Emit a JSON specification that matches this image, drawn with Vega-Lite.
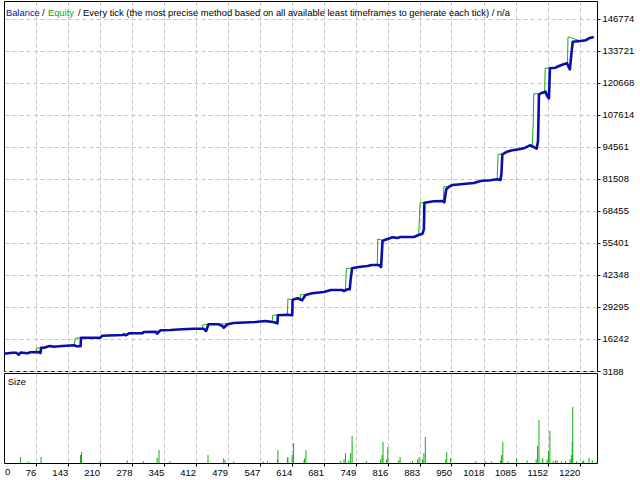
{
  "$schema": "https://vega.github.io/schema/vega-lite/v6.json",
  "padding": {"left": 3, "top": 0, "right": 0, "bottom": 0},
  "background": "white",
  "spacing": 2,
  "bounds": "flush",
  "datasets": {
    "lines": [
      {"s": "Balance", "x": 9, "y": 10245}, {"s": "Balance", "x": 26, "y": 10653}, {"s": "Balance", "x": 35, "y": 10653},
      {"s": "Balance", "x": 40, "y": 9837}, {"s": "Balance", "x": 44, "y": 10734}, {"s": "Balance", "x": 58, "y": 10449},
      {"s": "Balance", "x": 65, "y": 10816}, {"s": "Balance", "x": 82, "y": 10938}, {"s": "Balance", "x": 86, "y": 10530},
      {"s": "Balance", "x": 87, "y": 12692}, {"s": "Balance", "x": 93, "y": 12692}, {"s": "Balance", "x": 105, "y": 13385},
      {"s": "Balance", "x": 114, "y": 13100}, {"s": "Balance", "x": 124, "y": 13263}, {"s": "Balance", "x": 156, "y": 13671},
      {"s": "Balance", "x": 162, "y": 13263}, {"s": "Balance", "x": 170, "y": 13263}, {"s": "Balance", "x": 171, "y": 16771},
      {"s": "Balance", "x": 212, "y": 16771}, {"s": "Balance", "x": 216, "y": 17587}, {"s": "Balance", "x": 258, "y": 17872},
      {"s": "Balance", "x": 261, "y": 18158}, {"s": "Balance", "x": 265, "y": 17750}, {"s": "Balance", "x": 272, "y": 18566},
      {"s": "Balance", "x": 300, "y": 18566}, {"s": "Balance", "x": 303, "y": 19096}, {"s": "Balance", "x": 328, "y": 19218},
      {"s": "Balance", "x": 331, "y": 18402}, {"s": "Balance", "x": 338, "y": 19789}, {"s": "Balance", "x": 359, "y": 19912},
      {"s": "Balance", "x": 384, "y": 20197}, {"s": "Balance", "x": 408, "y": 20442}, {"s": "Balance", "x": 429, "y": 20442},
      {"s": "Balance", "x": 434, "y": 19504}, {"s": "Balance", "x": 439, "y": 22236}, {"s": "Balance", "x": 461, "y": 22236},
      {"s": "Balance", "x": 468, "y": 21543}, {"s": "Balance", "x": 471, "y": 20850}, {"s": "Balance", "x": 479, "y": 22236},
      {"s": "Balance", "x": 492, "y": 22767}, {"s": "Balance", "x": 538, "y": 23175}, {"s": "Balance", "x": 559, "y": 23583},
      {"s": "Balance", "x": 577, "y": 23053}, {"s": "Balance", "x": 584, "y": 22645}, {"s": "Balance", "x": 585, "y": 25908},
      {"s": "Balance", "x": 605, "y": 26153}, {"s": "Balance", "x": 615, "y": 25908}, {"s": "Balance", "x": 616, "y": 32271},
      {"s": "Balance", "x": 626, "y": 32842}, {"s": "Balance", "x": 636, "y": 32026}, {"s": "Balance", "x": 643, "y": 34188},
      {"s": "Balance", "x": 657, "y": 34881}, {"s": "Balance", "x": 682, "y": 35412}, {"s": "Balance", "x": 696, "y": 36228},
      {"s": "Balance", "x": 720, "y": 36228}, {"s": "Balance", "x": 724, "y": 35820}, {"s": "Balance", "x": 731, "y": 36513},
      {"s": "Balance", "x": 736, "y": 36513}, {"s": "Balance", "x": 738, "y": 40592}, {"s": "Balance", "x": 741, "y": 45079},
      {"s": "Balance", "x": 755, "y": 45610}, {"s": "Balance", "x": 773, "y": 46017}, {"s": "Balance", "x": 783, "y": 46425},
      {"s": "Balance", "x": 797, "y": 46425}, {"s": "Balance", "x": 802, "y": 45610}, {"s": "Balance", "x": 805, "y": 56215},
      {"s": "Balance", "x": 811, "y": 56745}, {"s": "Balance", "x": 826, "y": 57724}, {"s": "Balance", "x": 836, "y": 57439},
      {"s": "Balance", "x": 843, "y": 57847}, {"s": "Balance", "x": 871, "y": 57847}, {"s": "Balance", "x": 881, "y": 58662},
      {"s": "Balance", "x": 889, "y": 59193}, {"s": "Balance", "x": 892, "y": 60987}, {"s": "Balance", "x": 893, "y": 71838},
      {"s": "Balance", "x": 913, "y": 72409}, {"s": "Balance", "x": 931, "y": 72531}, {"s": "Balance", "x": 935, "y": 72001},
      {"s": "Balance", "x": 939, "y": 77303}, {"s": "Balance", "x": 945, "y": 78363}, {"s": "Balance", "x": 952, "y": 79057},
      {"s": "Balance", "x": 969, "y": 79343}, {"s": "Balance", "x": 997, "y": 79873}, {"s": "Balance", "x": 1011, "y": 80689},
      {"s": "Balance", "x": 1032, "y": 80975}, {"s": "Balance", "x": 1046, "y": 81383}, {"s": "Balance", "x": 1053, "y": 81097},
      {"s": "Balance", "x": 1055, "y": 83544}, {"s": "Balance", "x": 1057, "y": 91580}, {"s": "Balance", "x": 1067, "y": 92640},
      {"s": "Balance", "x": 1078, "y": 93212}, {"s": "Balance", "x": 1092, "y": 93619}, {"s": "Balance", "x": 1102, "y": 94027},
      {"s": "Balance", "x": 1115, "y": 95251}, {"s": "Balance", "x": 1123, "y": 94558}, {"s": "Balance", "x": 1129, "y": 93864},
      {"s": "Balance", "x": 1132, "y": 97005}, {"s": "Balance", "x": 1134, "y": 116054}, {"s": "Balance", "x": 1141, "y": 116707},
      {"s": "Balance", "x": 1148, "y": 117115}, {"s": "Balance", "x": 1151, "y": 115360}, {"s": "Balance", "x": 1155, "y": 114422},
      {"s": "Balance", "x": 1157, "y": 126659}, {"s": "Balance", "x": 1169, "y": 126904}, {"s": "Balance", "x": 1176, "y": 127597},
      {"s": "Balance", "x": 1186, "y": 128291}, {"s": "Balance", "x": 1193, "y": 128699}, {"s": "Balance", "x": 1197, "y": 126904},
      {"s": "Balance", "x": 1199, "y": 126251}, {"s": "Balance", "x": 1202, "y": 132370}, {"s": "Balance", "x": 1205, "y": 137509},
      {"s": "Balance", "x": 1221, "y": 137795}, {"s": "Balance", "x": 1232, "y": 138081}, {"s": "Balance", "x": 1239, "y": 138896},
      {"s": "Balance", "x": 1249, "y": 139427},
      {"s": "Equity", "x": 9, "y": 10245}, {"s": "Equity", "x": 26, "y": 10653}, {"s": "Equity", "x": 35, "y": 10653},
      {"s": "Equity", "x": 40, "y": 9837}, {"s": "Equity", "x": 44, "y": 10734}, {"s": "Equity", "x": 58, "y": 10449},
      {"s": "Equity", "x": 65, "y": 10816}, {"s": "Equity", "x": 76, "y": 10938}, {"s": "Equity", "x": 77, "y": 12447},
      {"s": "Equity", "x": 87, "y": 12692}, {"s": "Equity", "x": 93, "y": 12692}, {"s": "Equity", "x": 105, "y": 13385},
      {"s": "Equity", "x": 114, "y": 13100}, {"s": "Equity", "x": 124, "y": 13263}, {"s": "Equity", "x": 156, "y": 13671},
      {"s": "Equity", "x": 159, "y": 16524}, {"s": "Equity", "x": 171, "y": 16771}, {"s": "Equity", "x": 212, "y": 16771},
      {"s": "Equity", "x": 216, "y": 17587}, {"s": "Equity", "x": 258, "y": 17872}, {"s": "Equity", "x": 272, "y": 18566},
      {"s": "Equity", "x": 300, "y": 18566}, {"s": "Equity", "x": 303, "y": 19096}, {"s": "Equity", "x": 328, "y": 19218},
      {"s": "Equity", "x": 338, "y": 19789}, {"s": "Equity", "x": 384, "y": 20197}, {"s": "Equity", "x": 408, "y": 20442},
      {"s": "Equity", "x": 426, "y": 20442}, {"s": "Equity", "x": 427, "y": 21951}, {"s": "Equity", "x": 439, "y": 22236},
      {"s": "Equity", "x": 461, "y": 22236}, {"s": "Equity", "x": 492, "y": 22767}, {"s": "Equity", "x": 538, "y": 23175},
      {"s": "Equity", "x": 559, "y": 23583}, {"s": "Equity", "x": 573, "y": 23374}, {"s": "Equity", "x": 574, "y": 25908},
      {"s": "Equity", "x": 605, "y": 26153}, {"s": "Equity", "x": 606, "y": 32557}, {"s": "Equity", "x": 616, "y": 32271},
      {"s": "Equity", "x": 626, "y": 32842}, {"s": "Equity", "x": 632, "y": 32965}, {"s": "Equity", "x": 633, "y": 34474},
      {"s": "Equity", "x": 643, "y": 34188}, {"s": "Equity", "x": 657, "y": 34881}, {"s": "Equity", "x": 682, "y": 35412},
      {"s": "Equity", "x": 696, "y": 36228}, {"s": "Equity", "x": 720, "y": 36228}, {"s": "Equity", "x": 727, "y": 36350},
      {"s": "Equity", "x": 729, "y": 45079}, {"s": "Equity", "x": 741, "y": 45079}, {"s": "Equity", "x": 755, "y": 45610},
      {"s": "Equity", "x": 773, "y": 46017}, {"s": "Equity", "x": 783, "y": 46425}, {"s": "Equity", "x": 794, "y": 46425},
      {"s": "Equity", "x": 795, "y": 57031}, {"s": "Equity", "x": 805, "y": 56500}, {"s": "Equity", "x": 811, "y": 56745},
      {"s": "Equity", "x": 826, "y": 57724}, {"s": "Equity", "x": 836, "y": 57439}, {"s": "Equity", "x": 843, "y": 57847},
      {"s": "Equity", "x": 871, "y": 57847}, {"s": "Equity", "x": 881, "y": 58662}, {"s": "Equity", "x": 884, "y": 71838},
      {"s": "Equity", "x": 893, "y": 71838}, {"s": "Equity", "x": 913, "y": 72409}, {"s": "Equity", "x": 931, "y": 72531},
      {"s": "Equity", "x": 933, "y": 72653}, {"s": "Equity", "x": 934, "y": 78363}, {"s": "Equity", "x": 945, "y": 78363},
      {"s": "Equity", "x": 952, "y": 79057}, {"s": "Equity", "x": 969, "y": 79343}, {"s": "Equity", "x": 997, "y": 79873},
      {"s": "Equity", "x": 1011, "y": 80689}, {"s": "Equity", "x": 1032, "y": 80975}, {"s": "Equity", "x": 1046, "y": 81383},
      {"s": "Equity", "x": 1048, "y": 91580}, {"s": "Equity", "x": 1057, "y": 91580}, {"s": "Equity", "x": 1067, "y": 92640},
      {"s": "Equity", "x": 1078, "y": 93212}, {"s": "Equity", "x": 1092, "y": 93619}, {"s": "Equity", "x": 1102, "y": 94027},
      {"s": "Equity", "x": 1115, "y": 95251}, {"s": "Equity", "x": 1120, "y": 95169}, {"s": "Equity", "x": 1122, "y": 105163},
      {"s": "Equity", "x": 1123, "y": 116299}, {"s": "Equity", "x": 1134, "y": 116299}, {"s": "Equity", "x": 1141, "y": 116707},
      {"s": "Equity", "x": 1146, "y": 116992}, {"s": "Equity", "x": 1147, "y": 126659}, {"s": "Equity", "x": 1157, "y": 126659},
      {"s": "Equity", "x": 1169, "y": 126904}, {"s": "Equity", "x": 1176, "y": 127597}, {"s": "Equity", "x": 1186, "y": 128291},
      {"s": "Equity", "x": 1194, "y": 128699}, {"s": "Equity", "x": 1195, "y": 139427}, {"s": "Equity", "x": 1200, "y": 139223},
      {"s": "Equity", "x": 1221, "y": 137795}, {"s": "Equity", "x": 1232, "y": 138081}, {"s": "Equity", "x": 1239, "y": 138896},
      {"s": "Equity", "x": 1249, "y": 139427}
    ],
    "size": [
      {"x": 44, "v": 6}, {"x": 61, "v": 1.3}, {"x": 87, "v": 6}, {"x": 170, "v": 8}, {"x": 172, "v": 11},
      {"x": 212, "v": 1.7}, {"x": 268, "v": 2.7}, {"x": 302, "v": 1.7}, {"x": 331, "v": 5.3}, {"x": 335, "v": 13},
      {"x": 358, "v": 2}, {"x": 438, "v": 8}, {"x": 471, "v": 4.7}, {"x": 474, "v": 2.7}, {"x": 492, "v": 1.3},
      {"x": 554, "v": 1.7}, {"x": 563, "v": 1.7}, {"x": 584, "v": 3.7}, {"x": 585, "v": 12.7}, {"x": 605, "v": 4.7},
      {"x": 606, "v": 6}, {"x": 615, "v": 8}, {"x": 618, "v": 20}, {"x": 640, "v": 2.7}, {"x": 641, "v": 4.7},
      {"x": 644, "v": 13}, {"x": 717, "v": 2}, {"x": 724, "v": 3.7}, {"x": 727, "v": 10}, {"x": 734, "v": 2.7},
      {"x": 738, "v": 10}, {"x": 741, "v": 27}, {"x": 771, "v": 2}, {"x": 801, "v": 3.7}, {"x": 804, "v": 8},
      {"x": 806, "v": 21}, {"x": 813, "v": 3.7}, {"x": 816, "v": 16}, {"x": 839, "v": 2.7}, {"x": 842, "v": 6},
      {"x": 868, "v": 2}, {"x": 879, "v": 3.7}, {"x": 882, "v": 6}, {"x": 889, "v": 3.7}, {"x": 892, "v": 10},
      {"x": 895, "v": 26}, {"x": 938, "v": 3.7}, {"x": 940, "v": 11}, {"x": 948, "v": 4.7}, {"x": 1001, "v": 2},
      {"x": 1022, "v": 1.7}, {"x": 1034, "v": 1.7}, {"x": 1053, "v": 2.7}, {"x": 1055, "v": 8}, {"x": 1058, "v": 21},
      {"x": 1069, "v": 1.7}, {"x": 1087, "v": 4.7}, {"x": 1109, "v": 2.7}, {"x": 1128, "v": 3.7}, {"x": 1131, "v": 17},
      {"x": 1134, "v": 43}, {"x": 1141, "v": 2.7}, {"x": 1142, "v": 5}, {"x": 1151, "v": 3.7}, {"x": 1154, "v": 12},
      {"x": 1157, "v": 32}, {"x": 1164, "v": 2}, {"x": 1169, "v": 2.7}, {"x": 1172, "v": 2.7}, {"x": 1181, "v": 1.7},
      {"x": 1190, "v": 2}, {"x": 1199, "v": 3.7}, {"x": 1202, "v": 8}, {"x": 1204, "v": 22}, {"x": 1205, "v": 56},
      {"x": 1213, "v": 1.7}, {"x": 1225, "v": 1.7}, {"x": 1228, "v": 2.7}, {"x": 1239, "v": 5}, {"x": 1246, "v": 3}
    ]
  },
  "vconcat": [
    {
      "width": 593,
      "height": 370,
      "layer": [
        {
          "data": {"name": "lines"},
          "transform": [{"filter": "datum.s == 'Equity'"}],
          "mark": {"type": "line", "color": "#10b010", "strokeWidth": 1, "strokeJoin": "round", "clip": true},
          "encoding": {
            "x": {
              "field": "x",
              "type": "quantitative",
              "scale": {"domain": [9, 1256], "nice": false, "zero": false},
              "axis": {
                "values": [76, 143, 210, 278, 345, 412, 479, 547, 614, 681, 749, 816, 883, 950, 1018, 1085, 1152, 1220],
                "tickCount": 100,
                "labels": false,
                "ticks": false,
                "domain": false,
                "title": null,
                "grid": true
              }
            },
            "y": {
              "field": "y",
              "type": "quantitative",
              "scale": {"domain": [3188, 154111], "nice": false, "zero": false},
              "axis": {
                "orient": "right",
                "values": [3188, 16242, 29295, 42348, 55401, 68455, 81508, 94561, 107614, 120668, 133721, 146774],
                "tickCount": 100,
                "format": "d",
                "labelOverlap": false,
                "title": null,
                "grid": true,
                "domain": false,
                "tickSize": 3,
                "labelPadding": 2
              }
            }
          }
        },
        {
          "data": {"name": "lines"},
          "transform": [{"filter": "datum.s == 'Balance'"}],
          "mark": {"type": "line", "color": "#0c0cac", "strokeWidth": 2.6, "strokeJoin": "round", "clip": true},
          "encoding": {
            "x": {"field": "x", "type": "quantitative"},
            "y": {"field": "y", "type": "quantitative"}
          }
        },
        {
          "data": {"values": [{"label": "Balance"}]},
          "mark": {"type": "text", "align": "left", "baseline": "middle", "fontSize": 9.4, "color": "#0c0cac"},
          "encoding": {"x": {"datum": 13}, "y": {"datum": 149420}, "text": {"field": "label"}}
        },
        {
          "data": {"values": [{"label": "/"}]},
          "mark": {"type": "text", "align": "left", "baseline": "middle", "fontSize": 9.4, "color": "#000000", "dx": 36},
          "encoding": {"x": {"datum": 13}, "y": {"datum": 149420}, "text": {"field": "label"}}
        },
        {
          "data": {"values": [{"label": "Equity"}]},
          "mark": {"type": "text", "align": "left", "baseline": "middle", "fontSize": 9.4, "color": "#10a010", "dx": 42},
          "encoding": {"x": {"datum": 13}, "y": {"datum": 149420}, "text": {"field": "label"}}
        },
        {
          "data": {"values": [{"label": "/ Every tick (the most precise method based on all available least timeframes to generate each tick) / n/a"}]},
          "mark": {"type": "text", "align": "left", "baseline": "middle", "fontSize": 9.4, "color": "#000000", "dx": 72},
          "encoding": {"x": {"datum": 13}, "y": {"datum": 149420}, "text": {"field": "label"}}
        }
      ]
    },
    {
      "width": 593,
      "height": 90,
      "layer": [
        {
          "data": {"name": "size"},
          "mark": {"type": "rule", "color": "#10b010", "strokeWidth": 1},
          "encoding": {
            "x": {
              "field": "x",
              "type": "quantitative",
              "scale": {"domain": [9, 1256], "nice": false, "zero": false},
              "axis": {
                "values": [76, 143, 210, 278, 345, 412, 479, 547, 614, 681, 749, 816, 883, 950, 1018, 1085, 1152, 1220],
                "tickCount": 100,
                "labelAlign": "right",
                "labelFlush": false,
                "labelOverlap": false,
                "format": "d",
                "title": null,
                "grid": true,
                "domain": false,
                "tickSize": 3,
                "labelPadding": 1
              }
            },
            "y": {
              "field": "v",
              "type": "quantitative",
              "scale": {"domain": [0, 90], "nice": false},
              "axis": null
            },
            "y2": {"datum": 0}
          }
        },
        {
          "data": {"values": [{"label": "Size"}]},
          "mark": {"type": "text", "align": "left", "baseline": "middle", "fontSize": 9.4, "color": "#000000"},
          "encoding": {"x": {"datum": 17}, "y": {"datum": 81}, "text": {"field": "label"}}
        },
        {
          "data": {"values": [{"label": "0"}]},
          "mark": {"type": "text", "align": "left", "baseline": "top", "fontSize": 9.5, "color": "#000000"},
          "encoding": {"x": {"datum": 11}, "y": {"datum": -4}, "text": {"field": "label"}}
        }
      ]
    }
  ],
  "config": {
    "font": "Liberation Sans",
    "view": {"stroke": "#000000", "strokeWidth": 1},
    "text": {"font": "Liberation Sans"},
    "axis": {
      "labelFont": "Liberation Sans",
      "labelFontSize": 9.5,
      "labelColor": "#000000",
      "labelOverlap": false,
      "tickColor": "#000000",
      "gridColor": "#c4c4c4",
      "gridDash": [4, 3],
      "gridWidth": 1
    }
  }
}
